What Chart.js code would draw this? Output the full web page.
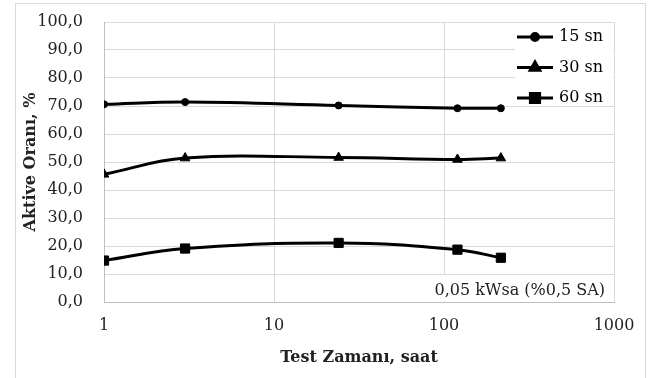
<!DOCTYPE html>
<html>
<head>
<meta charset="utf-8">
<script src="https://cdn.jsdelivr.net/npm/chart.js@4"></script>
<style>
  body { margin: 0; background: #fff; }
  #wrap { position: relative; width: 654px; height: 378px; overflow: hidden; }
  #frame { position: absolute; left: 15px; top: 3px; width: 631px; height: 400px; border: 1px solid #d9d9d9; box-sizing: border-box; }
  canvas { position: absolute; left: 0; top: 0; }
</style>
</head>
<body>
<div id="wrap">
  <div id="frame"></div>
  <canvas id="chart" width="654" height="378"></canvas>
</div>
<script>
// test times (hours) and active ratio (%)
var hours = [1, 3, 24, 120, 216];
var sn15 = [70.6, 71.4, 70.2, 69.2, 69.2];
var sn30 = [45.6, 51.4, 51.6, 50.9, 51.4];
var sn60 = [14.8, 19.1, 21.1, 18.7, 15.8];
var seriesLabels = ['15 sn', '30 sn', '60 sn'];
var xTicks = [1, 10, 100, 1000];
var noteText = '0,05 kWsa (%0,5 SA)';

var serif = '"DejaVu Serif", serif';

function toPoints(values) {
    let pts = [];
    for (let i = 0; i < hours.length; i++) {
        pts.push({ x: hours[i], y: values[i] });
    }
    return pts;
}

function makeSet(label, values, style, radius) {
    return {
        label: label,
        data: toPoints(values),
        borderColor: '#000',
        backgroundColor: '#000',
        borderWidth: 3,
        tension: 0.4,
        pointStyle: style,
        pointRadius: radius,
        pointBorderWidth: 1,
        pointBackgroundColor: '#000',
        pointBorderColor: '#000'
    };
}

// legend box and note box inside the plot area
const boxesPlugin = {
    id: 'boxes',
    beforeDatasetsDraw(chart) {
        const ctx = chart.ctx;
        const area = chart.chartArea;
        ctx.save();
        ctx.fillStyle = '#fff';
        ctx.fillRect(area.right - 99, area.top + 1, 98, 83);
        ctx.fillRect(area.right - 196, area.bottom - 27, 195, 26);
        ctx.restore();
    },
    afterDatasetsDraw(chart) {
        const ctx = chart.ctx;
        const area = chart.chartArea;
        ctx.save();
        ctx.font = '16px ' + serif;
        ctx.textBaseline = 'middle';
        chart.data.datasets.forEach(function (ds, i) {
            let y = area.top + 15 + i * 30.5;
            let x0 = area.right - 97;
            ctx.strokeStyle = '#000';
            ctx.lineWidth = 3;
            ctx.beginPath();
            ctx.moveTo(x0, y);
            ctx.lineTo(x0 + 36, y);
            ctx.stroke();
            Chart.helpers.drawPoint(ctx, {
                pointStyle: ds.pointStyle,
                radius: ds.pointRadius,
                borderWidth: 1,
                rotation: 0
            }, x0 + 18, y);
            ctx.fillStyle = '#000';
            ctx.textAlign = 'left';
            ctx.fillText(ds.label, x0 + 42, y);
        });
        ctx.fillStyle = '#222';
        ctx.textAlign = 'right';
        ctx.fillText(noteText, area.right - 9, area.bottom - 11);
        ctx.restore();
    }
};

var ctx = document.getElementById('chart').getContext('2d');
var chart = new Chart(ctx, {
    type: 'line',
    data: {
        datasets: [
            makeSet(seriesLabels[0], sn15, 'circle', 3.5),
            makeSet(seriesLabels[1], sn30, 'triangle', 5.5),
            makeSet(seriesLabels[2], sn60, 'rect', 6.5)
        ]
    },
    options: {
        responsive: false,
        animation: false,
        layout: { padding: { left: 0, right: 40, top: 22, bottom: 0 } },
        plugins: {
            legend: { display: false },
            tooltip: { enabled: false }
        },
        scales: {
            x: {
                type: 'logarithmic',
                min: 1,
                max: 1000,
                afterBuildTicks: function (scale) {
                    scale.ticks = xTicks.map(function (v) { return { value: v }; });
                },
                afterFit: function (scale) { scale.height = 76; },
                grid: { color: '#d9d9d9', drawTicks: false },
                border: { color: '#bfbfbf' },
                ticks: {
                    padding: 14,
                    color: '#222',
                    font: { family: serif, size: 16 },
                    callback: function (v) { return String(v); }
                },
                title: {
                    display: true,
                    text: 'Test Zamanı, saat',
                    color: '#222',
                    font: { family: serif, size: 16, weight: 'bold' },
                    padding: { top: 0, bottom: 11 }
                }
            },
            y: {
                min: 0,
                max: 100,
                afterFit: function (scale) {
                    scale.width = 104;
                    scale.paddingTop = 0;
                    scale.paddingBottom = 0;
                },
                grid: { color: '#d9d9d9', drawTicks: false },
                border: { color: '#bfbfbf' },
                ticks: {
                    stepSize: 10,
                    padding: 21,
                    color: '#222',
                    font: { family: serif, size: 16 },
                    callback: function (v) { return v.toFixed(1).replace('.', ','); }
                },
                title: {
                    display: true,
                    text: 'Aktive Oranı, %',
                    color: '#222',
                    font: { family: serif, size: 16, weight: 'bold' },
                    padding: { top: 21, bottom: 0 }
                }
            }
        }
    },
    plugins: [boxesPlugin]
});
</script>
</body>
</html>
